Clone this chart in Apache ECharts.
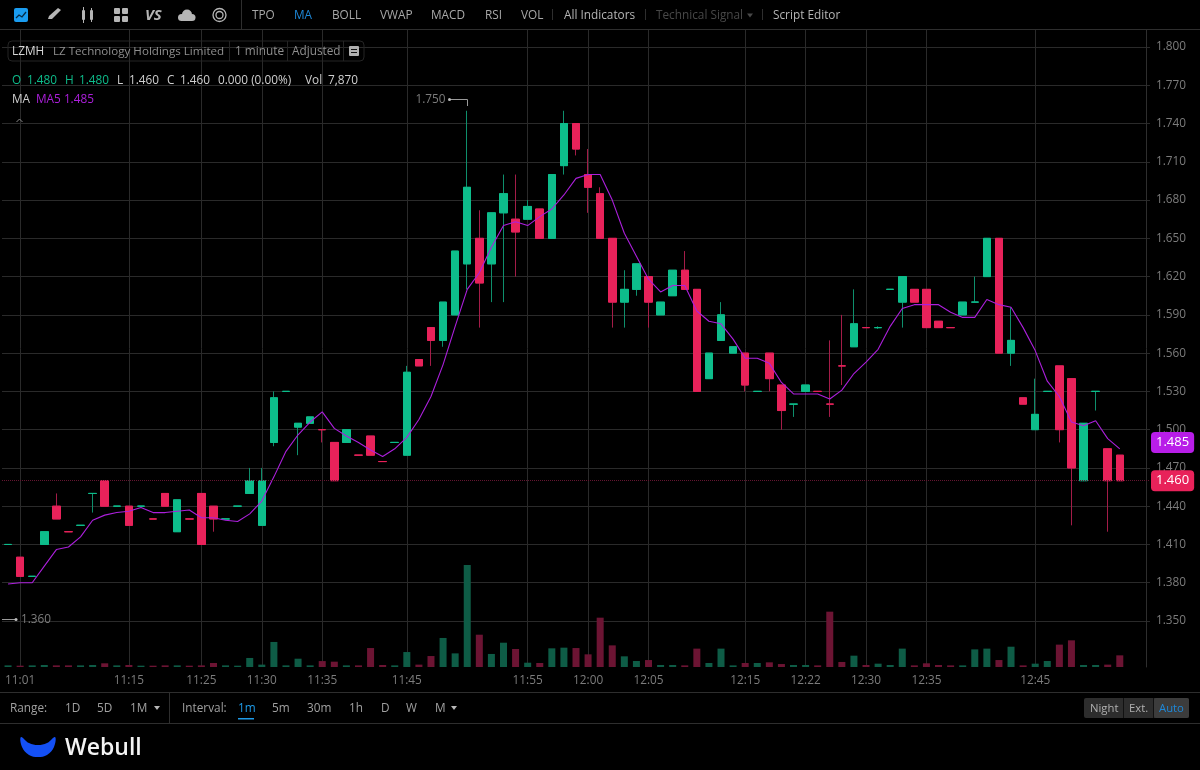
<!DOCTYPE html>
<html><head><meta charset="utf-8">
<style>html,body{margin:0;padding:0;background:#000;overflow:hidden}#c{width:1200px;height:770px}</style>
<script src="https://cdn.jsdelivr.net/npm/echarts@6/dist/echarts.min.js"></script>
</head><body><div id="c"></div>
<script>
const times = ["11:00","11:01","11:02","11:04","11:05","11:06","11:08","11:09","11:11","11:12","11:15","11:16","11:18","11:20","11:21","11:23","11:25","11:26","11:27","11:28","11:29","11:30","11:31","11:32","11:33","11:34","11:35","11:36","11:37","11:39","11:40","11:41","11:43","11:45","11:46","11:47","11:48","11:49","11:50","11:51","11:52","11:53","11:54","11:55","11:56","11:57","11:58","11:59","12:00","12:01","12:02","12:03","12:04","12:05","12:06","12:07","12:08","12:09","12:10","12:11","12:13","12:15","12:16","12:17","12:18","12:20","12:22","12:24","12:25","12:26","12:28","12:30","12:31","12:32","12:33","12:34","12:35","12:36","12:37","12:38","12:39","12:40","12:41","12:42","12:43","12:45","12:46","12:47","12:48","12:49","12:50","12:51","12:52","12:53","12:54"];
const tickLabels = ["11:01","11:15","11:25","11:30","11:35","11:45","11:55","12:00","12:05","12:15","12:22","12:30","12:35","12:45"];
const priceMin = 1.35, priceMax = 1.8, priceStep = 0.03;
const open = [1.41,1.40,1.385,1.41,1.44,1.42,1.425,1.45,1.46,1.44,1.44,1.44,1.43,1.45,1.42,1.43,1.45,1.44,1.43,1.44,1.45,1.425,1.49,1.53,1.502,1.505,1.50,1.49,1.49,1.48,1.495,1.475,1.49,1.48,1.555,1.58,1.57,1.59,1.63,1.65,1.63,1.67,1.665,1.665,1.673,1.65,1.707,1.74,1.70,1.685,1.65,1.60,1.61,1.62,1.59,1.605,1.625,1.61,1.54,1.57,1.56,1.56,1.53,1.56,1.535,1.52,1.53,1.53,1.52,1.55,1.565,1.58,1.58,1.61,1.60,1.61,1.61,1.585,1.58,1.59,1.60,1.62,1.65,1.56,1.525,1.50,1.53,1.55,1.54,1.46,1.53,1.485,1.48];
const close = [1.41,1.385,1.385,1.42,1.43,1.42,1.425,1.45,1.44,1.44,1.425,1.44,1.43,1.44,1.445,1.43,1.41,1.43,1.43,1.44,1.46,1.46,1.525,1.53,1.505,1.51,1.50,1.46,1.50,1.48,1.48,1.475,1.49,1.545,1.55,1.57,1.60,1.64,1.69,1.615,1.67,1.685,1.655,1.675,1.65,1.70,1.74,1.72,1.69,1.65,1.60,1.61,1.63,1.60,1.60,1.625,1.61,1.53,1.56,1.59,1.565,1.535,1.53,1.54,1.515,1.52,1.535,1.53,1.52,1.55,1.583,1.58,1.58,1.61,1.62,1.60,1.58,1.58,1.58,1.60,1.60,1.65,1.56,1.57,1.52,1.512,1.53,1.50,1.47,1.505,1.53,1.46,1.46];
const low = [1.41,1.385,1.385,1.41,1.43,1.42,1.425,1.435,1.44,1.44,1.425,1.44,1.43,1.44,1.42,1.43,1.41,1.42,1.43,1.44,1.45,1.425,1.487,1.53,1.48,1.505,1.49,1.46,1.49,1.48,1.48,1.475,1.49,1.48,1.55,1.55,1.565,1.59,1.61,1.58,1.60,1.60,1.62,1.665,1.65,1.65,1.70,1.715,1.67,1.65,1.58,1.58,1.605,1.58,1.59,1.605,1.61,1.53,1.54,1.57,1.56,1.53,1.53,1.53,1.50,1.51,1.53,1.53,1.51,1.535,1.565,1.58,1.579,1.61,1.58,1.60,1.58,1.58,1.58,1.59,1.60,1.62,1.56,1.55,1.52,1.50,1.53,1.49,1.425,1.46,1.515,1.42,1.46];
const high = [1.41,1.40,1.385,1.42,1.45,1.42,1.425,1.45,1.46,1.44,1.44,1.44,1.43,1.45,1.445,1.43,1.45,1.44,1.43,1.44,1.47,1.47,1.53,1.53,1.505,1.51,1.50,1.49,1.50,1.48,1.495,1.475,1.49,1.55,1.555,1.58,1.60,1.64,1.75,1.672,1.67,1.70,1.70,1.68,1.673,1.70,1.75,1.74,1.72,1.69,1.65,1.625,1.63,1.62,1.60,1.625,1.64,1.61,1.56,1.60,1.565,1.56,1.53,1.56,1.535,1.52,1.535,1.53,1.57,1.59,1.61,1.58,1.581,1.61,1.62,1.61,1.61,1.585,1.58,1.60,1.62,1.65,1.65,1.596,1.525,1.54,1.53,1.55,1.54,1.505,1.53,1.485,1.48];
const rising = [1,0,1,1,0,0,1,1,0,1,0,1,0,0,1,0,0,0,1,1,1,1,1,1,1,1,0,0,1,0,0,0,1,1,0,0,1,1,1,0,1,1,0,1,0,1,1,0,0,0,0,1,1,0,1,1,0,0,1,1,1,0,1,0,0,1,1,0,0,0,1,0,1,1,1,0,0,0,0,1,1,1,0,1,0,1,1,0,0,1,1,0,0];
const ma5 = [1.379,1.38,1.38,1.393,1.406,1.408,1.416,1.429,1.433,1.435,1.436,1.439,1.435,1.435,1.436,1.437,1.431,1.431,1.429,1.428,1.434,1.444,1.463,1.483,1.496,1.506,1.514,1.501,1.495,1.49,1.484,1.479,1.485,1.494,1.508,1.526,1.551,1.581,1.61,1.623,1.643,1.66,1.663,1.66,1.667,1.673,1.684,1.697,1.70,1.70,1.68,1.654,1.636,1.618,1.608,1.613,1.613,1.593,1.585,1.583,1.571,1.556,1.556,1.552,1.537,1.528,1.528,1.528,1.524,1.531,1.544,1.553,1.563,1.581,1.595,1.598,1.598,1.598,1.592,1.588,1.588,1.602,1.598,1.596,1.58,1.562,1.538,1.526,1.506,1.503,1.507,1.493,1.485];
const volume = [1100,900,1100,1350,1100,1100,1100,1350,2500,1100,1350,900,900,1100,1100,900,1100,2700,1100,900,6100,1600,16900,1100,5600,1100,4000,3600,1100,1100,12800,1350,1100,10100,1600,7400,19600,9200,68850,21800,8800,16400,12150,2900,2700,12600,13050,12800,8550,33300,14600,7200,4050,4700,1350,1350,1100,12400,2700,12400,1100,2700,2700,3150,2000,1350,1350,1100,37350,3400,7650,1350,2250,1350,12400,1100,2500,1350,1100,1100,11900,12400,4700,13700,1100,2250,4050,15100,18000,1350,1350,1600,7870];

const GREEN = '#0dbd8b', RED = '#e8225a', VGREEN = '#0e5c46', VRED = '#6c1433', PURPLE = '#ac1fdc';
const WGREEN = '#0e8f6c', WRED = '#a41c48';
const FONT = '"Open Sans"';

const wicks = open.map((o, i) => {
  const col = rising[i] ? WGREEN : WRED;
  return { value: [o, close[i], low[i], high[i]],
           itemStyle: { color: col, color0: col, borderColor: col, borderColor0: col, borderColorDoji: col } };
});
const bodies = open.map((o, i) => {
  const col = rising[i] ? GREEN : RED;
  return { value: [o, close[i], Math.min(o, close[i]), Math.max(o, close[i])],
           itemStyle: { color: col, color0: col, borderColor: col, borderColor0: col, borderColorDoji: col } };
});
const vols = volume.map((v, i) => ({ value: v, itemStyle: { color: rising[i] ? VGREEN : VRED } }));

const gfx = [];
function txt(x, y, s, fill, o) {
  gfx.push({ type: 'text', silent: true, z: 50, x, y,
    style: Object.assign({ text: s, fill: fill || '#bdbdbd', font: '11.8px ' + FONT, textVerticalAlign: 'middle', textAlign: 'left' }, o || {}) });
}
function rect(x, y, w, h, fill, o) {
  gfx.push({ type: 'rect', silent: true, z: 49, shape: { x, y, width: w, height: h, r: (o && o.r) || 0 },
    style: Object.assign({ fill: fill }, (o && o.style) || {}) });
}
function ln(x1, y1, x2, y2, c, w) {
  gfx.push({ type: 'line', silent: true, z: 49, shape: { x1, y1, x2, y2 }, style: { stroke: c || '#2c2c2c', lineWidth: w || 1 } });
}
function tri(x, y, c) {
  gfx.push({ type: 'polygon', silent: true, z: 49, shape: { points: [[x - 3, y - 2], [x + 3, y - 2], [x, y + 2]] }, style: { fill: c } });
}
// frame lines
ln(0, 29.5, 1200, 29.5, '#2e2e2e');
ln(0, 692.5, 1200, 692.5, '#2e2e2e');
ln(0, 723.5, 1200, 723.5, '#2e2e2e');
ln(241.5, 0, 241.5, 29, '#2e2e2e');
ln(552.5, 9, 552.5, 20, '#2e2e2e');
ln(645.5, 9, 645.5, 20, '#2e2e2e');
ln(762.5, 9, 762.5, 20, '#2e2e2e');
ln(169.5, 693, 169.5, 723, '#2e2e2e');

// toolbar icons
rect(14, 8, 14, 14, '#1a9cf0', { r: 2 });
gfx.push({ type: 'polyline', silent: true, z: 50, shape: { points: [[16, 18], [19, 15], [22, 17], [26, 12]] }, style: { stroke: '#062a44', fill: null, lineWidth: 1.3 } });
gfx.push({ type: 'polygon', silent: true, z: 50, shape: { points: [[48, 19], [49, 16], [58, 8], [61, 10], [52, 19]] }, style: { fill: '#b5b5b5' } });
rect(82, 10, 3, 10, '#b5b5b5', { r: 1 }); ln(83.5, 7, 83.5, 23, '#b5b5b5');
rect(90, 10, 3, 10, '#b5b5b5', { r: 1 }); ln(91.5, 8, 91.5, 22, '#b5b5b5');
rect(114, 8, 6, 6, '#b5b5b5', { r: 1 }); rect(122, 8, 6, 6, '#b5b5b5', { r: 1 });
rect(114, 16, 6, 6, '#b5b5b5', { r: 1 }); rect(122, 16, 6, 6, '#b5b5b5', { r: 1 });
txt(145, 15.5, 'VS', '#b5b5b5', { font: 'italic bold 15px ' + FONT });
// cloud
gfx.push({ type: 'circle', silent: true, z: 50, shape: { cx: 187, cy: 14.5, r: 5 }, style: { fill: '#b5b5b5' } });
gfx.push({ type: 'circle', silent: true, z: 50, shape: { cx: 181.5, cy: 17.5, r: 3.5 }, style: { fill: '#b5b5b5' } });
gfx.push({ type: 'circle', silent: true, z: 50, shape: { cx: 192, cy: 17.5, r: 3.5 }, style: { fill: '#b5b5b5' } });
rect(181, 17, 11, 4, '#b5b5b5');
// circle icon
gfx.push({ type: 'circle', silent: true, z: 50, shape: { cx: 219.5, cy: 15, r: 6.5 }, style: { stroke: '#b5b5b5', fill: null, lineWidth: 1.3 } });
gfx.push({ type: 'circle', silent: true, z: 50, shape: { cx: 219.5, cy: 15, r: 3.5 }, style: { stroke: '#b5b5b5', fill: null, lineWidth: 1.3 } });

// toolbar text
[['TPO', 252, '#a8a8a8'], ['MA', 294, '#1e88d8'], ['BOLL', 332, '#a8a8a8'], ['VWAP', 380, '#a8a8a8'], ['MACD', 431, '#a8a8a8'], ['RSI', 485, '#a8a8a8'], ['VOL', 521, '#a8a8a8']]
  .forEach(a => txt(a[1], 15.5, a[0], a[2]));
txt(564, 16, 'All Indicators', '#b5b5b5');
txt(656, 16, 'Technical Signal', '#484848');
tri(750, 15.5, '#484848');
txt(773, 16, 'Script Editor', '#b5b5b5');

// legend box
rect(8, 41, 356, 20, 'transparent', { r: 4, style: { stroke: '#242424', lineWidth: 1 } });
ln(229.5, 41, 229.5, 61, '#242424'); ln(287.5, 41, 287.5, 61, '#242424'); ln(343.5, 41, 343.5, 61, '#242424');
txt(12, 52, 'LZMH', '#d8d8d8');
txt(53, 52, 'LZ Technology Holdings Limited', '#8f8f8f', { font: '11.6px ' + FONT });
txt(235, 52, '1 minute', '#8f8f8f');
txt(292, 52, 'Adjusted', '#8f8f8f');
rect(349, 46, 10, 10, '#b0b0b0', { r: 1 });
ln(351, 49.5, 357, 49.5, '#111'); ln(351, 52.5, 357, 52.5, '#111');

// OHLC row
txt(12, 80.5, 'O', GREEN); txt(27, 80.5, '1.480', GREEN);
txt(65, 80.5, 'H', GREEN); txt(79, 80.5, '1.480', GREEN);
txt(117, 80.5, 'L', '#cfcfcf'); txt(129, 80.5, '1.460', '#cfcfcf');
txt(167, 80.5, 'C', '#cfcfcf'); txt(180, 80.5, '1.460', '#cfcfcf');
txt(218, 80.5, '0.000 (0.00%)', '#cfcfcf');
txt(305, 80.5, 'Vol', '#cfcfcf'); txt(328, 80.5, '7,870', '#cfcfcf');
txt(12, 99.5, 'MA', '#cfcfcf');
txt(36, 99.5, 'MA5 1.485', PURPLE);
gfx.push({ type: 'polyline', silent: true, z: 50, shape: { points: [[16.5, 122], [19.5, 119], [22.5, 122]] }, style: { stroke: '#8a8a8a', fill: null, lineWidth: 1 } });

// lowest-price note
ln(2, 619.5, 15, 619.5, '#9a9a9a');
gfx.push({ type: 'circle', silent: true, z: 50, shape: { cx: 16, cy: 619.5, r: 1.5 }, style: { fill: '#bbbbbb' } });
txt(21, 619.5, '1.360', '#7c7c7c');

// bottom bar
const BY = 709;
txt(10, BY, 'Range:', '#a0a0a0');
txt(65, BY, '1D', '#a0a0a0'); txt(97, BY, '5D', '#a0a0a0'); txt(130, BY, '1M', '#a0a0a0'); tri(157, 708, '#b8b8b8');
txt(182, BY, 'Interval:', '#a0a0a0');
txt(238, BY, '1m', '#1e9be8');
rect(238, 718, 16, 1.5, '#1e9be8');
txt(272, BY, '5m', '#a0a0a0'); txt(307, BY, '30m', '#a0a0a0'); txt(349, BY, '1h', '#a0a0a0');
txt(381, BY, 'D', '#a0a0a0'); txt(406, BY, 'W', '#a0a0a0'); txt(435, BY, 'M', '#a0a0a0'); tri(454, 708, '#b8b8b8');
rect(1084, 698, 105, 20, '#2d2d2d', { r: 2 });
rect(1154, 698, 35, 20, '#3c3c3c', { r: 2 });
ln(1123.5, 698, 1123.5, 718, '#111'); ln(1153.5, 698, 1153.5, 718, '#111');
txt(1090, BY, 'Night', '#b0b0b0', { font: '11.3px ' + FONT }); txt(1129, BY, 'Ext.', '#b0b0b0', { font: '11.3px ' + FONT }); txt(1159, BY, 'Auto', '#1e88d8', { font: '11.3px ' + FONT });

// logo: crescent
gfx.push({ type: 'polygon', silent: true, z: 50, shape: { smooth: 0.4, points: [[21, 737], [29, 743], [38, 745], [47, 743], [55, 737], [54, 747], [47, 755], [38, 757], [29, 755], [22, 747]] }, style: { fill: '#1450f5' } });
txt(65, 748.5, 'Webull', '#f4f4f4', { font: '600 23px "Open Sans"' });

const chart = echarts.init(document.getElementById('c'), null, { renderer: 'canvas' });
const showTick = (i, v) => tickLabels.includes(v);
const option = {
  backgroundColor: '#000',
  animation: false,
  textStyle: { fontFamily: FONT },
  grid: [
    { left: 2, top: 47, width: 1148, height: 574 },
    { left: 2, top: 30, width: 1148, height: 637 }
  ],
  xAxis: [
    { type: 'category', gridIndex: 0, data: times, show: false },
    { type: 'category', gridIndex: 1, data: times,
      axisLine: { show: false }, axisTick: { show: false },
      axisLabel: { interval: showTick, color: '#7c7c7c', fontSize: 11.8, margin: 8, fontFamily: FONT },
      splitLine: { show: true, interval: showTick, alignWithLabel: true, lineStyle: { color: '#2a2a2a', width: 1 } } }
  ],
  yAxis: [
    { type: 'value', gridIndex: 0, position: 'right', offset: -4, min: priceMin, max: priceMax, interval: priceStep,
      axisLine: { show: false }, axisTick: { show: false },
      axisLabel: { color: '#7c7c7c', fontSize: 11.8, margin: 10, fontFamily: FONT, formatter: v => v.toFixed(3) },
      splitLine: { show: true, lineStyle: { color: '#2a2a2a', width: 1 } } },
    { type: 'value', gridIndex: 1, position: 'right', offset: -4, min: 0, max: 430000,
      axisLine: { show: true, lineStyle: { color: '#2e2e2e' } }, axisTick: { show: false }, axisLabel: { show: false },
      splitLine: { show: false } }
  ],
  series: [
    { type: 'bar', name: 'Vol', xAxisIndex: 1, yAxisIndex: 1, data: vols, barWidth: 7, z: 2 },
    { type: 'candlestick', name: 'Wicks', xAxisIndex: 0, yAxisIndex: 0, data: wicks, barWidth: 8, z: 3,
      itemStyle: { borderWidth: 1 },
      markLine: { silent: true, symbol: 'none', animation: false, z: 20,
        data: [{ yAxis: close[close.length - 1] }],
        lineStyle: { color: '#641530', type: 'dotted', width: 1 },
        label: { position: 'end', distance: 1, formatter: () => close[close.length - 1].toFixed(3), color: '#fff', fontSize: 13, fontFamily: FONT,
          backgroundColor: RED, borderRadius: 4, padding: [4, 5, 4, 5] } } },
    { type: 'candlestick', name: 'LZMH', xAxisIndex: 0, yAxisIndex: 0, data: bodies, barWidth: 8, z: 3,
      itemStyle: { borderWidth: 1 } },
    { type: 'line', name: 'MA5', xAxisIndex: 0, yAxisIndex: 0, data: ma5, symbol: 'none', z: 4, clip: false,
      lineStyle: { color: PURPLE, width: 1.1 },
      markLine: { silent: true, symbol: 'none', animation: false, z: 20,
        data: [{ yAxis: ma5[ma5.length - 1] }],
        lineStyle: { color: 'rgba(0,0,0,0)', width: 0 },
        label: { position: 'end', distance: 1, formatter: () => ma5[ma5.length - 1].toFixed(3), color: '#fff', fontSize: 13, fontFamily: FONT,
          backgroundColor: '#b81de8', borderRadius: 4, padding: [4, 5, 4, 5] } } }
  ]
};
chart.setOption(option);
// highest-price note, anchored on the tallest candle
const hiIdx = high.indexOf(Math.max.apply(null, high));
const p = chart.convertToPixel({ xAxisIndex: 0, yAxisIndex: 0 }, [hiIdx, high[hiIdx]]);
const px = Math.round(p[0]) + 0.5, py = Math.round(p[1]);
gfx.push({ type: 'polyline', silent: true, z: 49, shape: { points: [[px - 18, py - 11.5], [px, py - 11.5], [px, py - 5]] }, style: { stroke: '#9a9a9a', fill: null, lineWidth: 1 } });
gfx.push({ type: 'circle', silent: true, z: 50, shape: { cx: px - 18, cy: py - 11.5, r: 1.5 }, style: { fill: '#bbbbbb' } });
txt(px - 52, py - 11.5, high[hiIdx].toFixed(3), '#7c7c7c');
chart.setOption({ graphic: gfx });
</script></body></html>
